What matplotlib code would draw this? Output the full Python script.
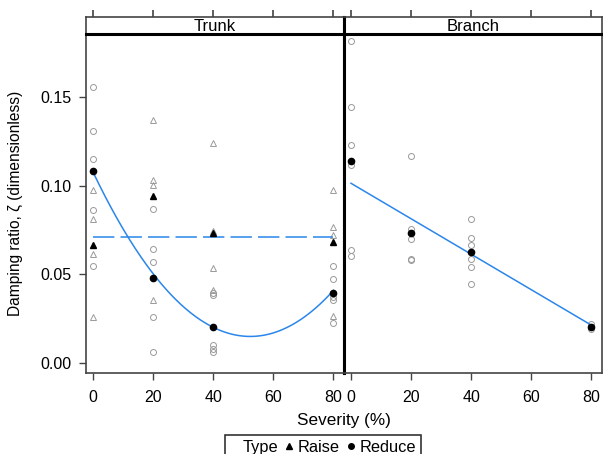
import numpy as np
import matplotlib
matplotlib.use('Agg')
from matplotlib import pyplot as plt
from matplotlib.lines import Line2D

plt.rcParams['font.family'] = ['Liberation Sans', 'DejaVu Sans']
plt.rcParams['font.size'] = 11

# --- data ---
severity = [0, 20, 40, 80]

# Trunk, Raise (open triangles), per severity level
trunk_raise = {
    0: [0.0975, 0.0809, 0.0616, 0.0259],
    20: [0.137, 0.1032, 0.1005, 0.0354],
    40: [0.1239, 0.0746, 0.0533, 0.0411],
    80: [0.0975, 0.0765, 0.072, 0.0263],
}
trunk_raise_mean = [0.0662, 0.0939, 0.0733, 0.068]

# Trunk, Reduce (open circles)
trunk_reduce = {
    0: [0.1556, 0.1307, 0.1152, 0.0862, 0.0546],
    20: [0.0869, 0.0643, 0.0571, 0.0256, 0.0059],
    40: [0.0392, 0.0384, 0.0097, 0.0078, 0.006],
    80: [0.0545, 0.0471, 0.0373, 0.0352, 0.0222],
}
trunk_reduce_mean = [0.1083, 0.048, 0.0199, 0.0395]

# Branch, Reduce only
branch_reduce = {
    0: [0.1817, 0.1441, 0.1232, 0.1114, 0.0637, 0.0605],
    20: [0.1169, 0.0754, 0.0696, 0.0588, 0.058],
    40: [0.0813, 0.0703, 0.0662, 0.0588, 0.0539, 0.0446],
    80: [0.0216, 0.0191],
}
branch_reduce_mean = [0.1141, 0.0732, 0.0624, 0.0203]

# fitted models
trunk_reduce_fit = [3.4e-5, -0.00356, 0.108]   # quadratic
trunk_raise_fit = 0.0712                       # constant
branch_reduce_fit = [-0.001002, 0.1013]        # linear

x_ticks = [0, 20, 40, 60, 80]
y_ticks = [0.00, 0.05, 0.10, 0.15]

GRAY = '#9a9a9a'
BLUE = '#2a86ea'
EDGE = '#444444'

W, H = 603, 454
fig = plt.figure(figsize=(W / 100, H / 100), dpi=100)

def fx(px):
    return px / W

def fy(py):
    return 1 - py / H

x_left, x_mid, x_right = 85.7, 344, 602
y_strip_top, y_strip_bot, y_bot = 17, 34, 373.3

ax1 = fig.add_axes([fx(x_left), fy(y_bot), fx(x_mid - x_left), fy(y_strip_bot) - fy(y_bot)])
ax2 = fig.add_axes([fx(x_mid), fy(y_bot), fx(x_right - x_mid), fy(y_strip_bot) - fy(y_bot)])
s1 = fig.add_axes([fx(x_left), fy(y_strip_bot), fx(x_mid - x_left), fy(y_strip_top) - fy(y_strip_bot)])
s2 = fig.add_axes([fx(x_mid), fy(y_strip_bot), fx(x_right - x_mid), fy(y_strip_top) - fy(y_strip_bot)])

xlim = (-2.33, 83.5)
ylim = (-0.006, 0.1856)

def scatter_groups(ax, groups, marker):
    for sv in severity:
        vals = groups.get(sv, [])
        ax.plot([sv] * len(vals), vals, linestyle='none', marker=marker,
                markersize=4.3, markerfacecolor='none', markeredgecolor=GRAY,
                markeredgewidth=0.7, zorder=2)

xs = np.linspace(0, 80, 200)

# Trunk panel
scatter_groups(ax1, trunk_raise, '^')
scatter_groups(ax1, trunk_reduce, 'o')
ax1.plot(xs, np.polyval(trunk_reduce_fit, xs), color=BLUE, lw=1.1, zorder=3)
ax1.plot([0, 80], [trunk_raise_fit, trunk_raise_fit], color=BLUE, lw=1.1,
         linestyle=(0, (14, 4)), zorder=3)
ax1.plot(severity, trunk_raise_mean, linestyle='none', marker='^', markersize=4.5,
         color='black', zorder=4)
ax1.plot(severity, trunk_reduce_mean, linestyle='none', marker='o', markersize=4.5,
         color='black', zorder=4)

# Branch panel
scatter_groups(ax2, branch_reduce, 'o')
ax2.plot(xs, np.polyval(branch_reduce_fit, xs), color=BLUE, lw=1.1, zorder=3)
ax2.plot(severity, branch_reduce_mean, linestyle='none', marker='o', markersize=4.5,
         color='black', zorder=4)

for ax in (ax1, ax2):
    ax.set_xlim(*xlim)
    ax.set_ylim(*ylim)
    ax.set_xticks(x_ticks)
    ax.set_xticklabels([str(t) for t in x_ticks])
    ax.tick_params(axis='x', direction='out', length=5, width=1, color=EDGE, pad=7,
                   labelsize=11.5)
    for sp in ax.spines.values():
        sp.set_color(EDGE)
        sp.set_linewidth(1.2)
        sp.set_zorder(5)

ax1.set_yticks(y_ticks)
ax1.set_yticklabels(['%.2f' % t for t in y_ticks])
ax1.tick_params(axis='y', direction='out', length=5, width=1, color=EDGE, pad=5,
                labelsize=11.5)
ax2.set_yticks([])
ax1.spines['right'].set_color('black')
ax1.spines['right'].set_linewidth(2.2)
ax2.spines['left'].set_color('black')
ax2.spines['left'].set_linewidth(2.2)

ax1.set_ylabel('Damping ratio, ζ (dimensionless)', fontsize=11.2, labelpad=13)

# strips
for s, name in ((s1, 'Trunk'), (s2, 'Branch')):
    s.set_xlim(*xlim)
    s.set_ylim(0, 1)
    s.set_yticks([])
    s.set_xticks(x_ticks)
    s.xaxis.tick_top()
    s.tick_params(axis='x', direction='out', length=5, width=1.1, color='#333333',
                  labeltop=False, labelbottom=False, pad=1)
    s.text(0.5, 0.45, name, transform=s.transAxes, ha='center', va='center', fontsize=12)
    for sp in s.spines.values():
        sp.set_color(EDGE)
        sp.set_linewidth(1.2)
    s.spines['bottom'].set_color('black')
    s.spines['bottom'].set_linewidth(2.2)
s1.spines['right'].set_color('black')
s1.spines['right'].set_linewidth(2.2)
s2.spines['left'].set_color('black')
s2.spines['left'].set_linewidth(2.2)

fig.text(fx((x_left + x_right) / 2), fy(421), 'Severity (%)', ha='center', va='center',
         fontsize=12.3)

handles = [Line2D([], [], linestyle='none'),
           Line2D([], [], linestyle='none', marker='^', color='black', markersize=4),
           Line2D([], [], linestyle='none', marker='o', color='black', markersize=4)]
leg = fig.legend(handles, ['Type', 'Raise', 'Reduce'], ncol=3, loc='upper center',
                 bbox_to_anchor=(fx(323), fy(435)), frameon=True, fancybox=False,
                 edgecolor='black', fontsize=11.8, handlelength=0.5, handletextpad=0.3,
                 columnspacing=0.4, borderpad=0.3, borderaxespad=0)
leg.get_frame().set_linewidth(1.2)

fig.savefig('out.png', dpi=100)
